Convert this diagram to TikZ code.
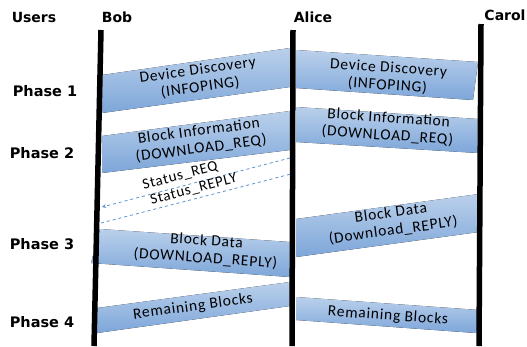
\documentclass[tikz,border=0pt]{standalone}
\usepackage{fontspec}
\setmainfont{Carlito}[LetterSpace=5]
\newfontfamily\headfont{DejaVu Sans}
\usepackage{tikz}
\usetikzlibrary{arrows.meta,positioning}

\definecolor{bandtop}{HTML}{BAD0EB}
\definecolor{bandbot}{HTML}{7DA6D9}
\definecolor{dashblue}{HTML}{5B93D0}

\tikzset{
  band/.style={top color=bandtop,bottom color=bandbot,draw=none},
  bandtext/.style={font=\fontsize{15.5}{17.5}\selectfont,align=center,inner sep=0pt},
  user/.style={font=\headfont\bfseries\fontsize{14}{16}\selectfont,inner sep=0pt},
  phase/.style={font=\headfont\bfseries\fontsize{14.5}{16}\selectfont,inner sep=0pt},
  lifeline/.style={line width=5.5pt,black},
  status/.style={dashed,dashblue,line width=0.8pt},
  statustext/.style={font=\fontsize{15}{16}\selectfont,inner sep=1pt,black}
}

\begin{document}
\begin{tikzpicture}[x=1pt,y=-1pt]
\useasboundingbox (0,0) rectangle (527,346);

% Headers
\node[user] (users) at (34,17) {Users};
\node[user] (bob) at (117,17) {Bob};
\node[user] (alice) at (313,17) {Alice};
\node[user] (carol) at (505,15) {Carol};

\node[phase] (ph1) at (45,91) {Phase 1};
\node[phase] (ph2) at (42,153) {Phase 2};
\node[phase] (ph3) at (42,244) {Phase 3};
\node[phase] (ph4) at (42,322) {Phase 4};

% Phase 1
\fill[band] (102,75) -- (290,48) -- (290,87) -- (102,113) -- cycle;
\fill[band] (296,50) -- (478,62) -- (473,100) -- (296,88) -- cycle;
\node[bandtext,rotate=8] (disc1) at (199,79) {Device Discovery\\(INFOPING)};
\node[bandtext,rotate=-4] (disc2) at (388,77) {Device Discovery\\(INFOPING)};

% Phase 2
\fill[band] (102,136) -- (290,111) -- (290,150) -- (102,173) -- cycle;
\fill[band] (296,107) -- (478,119) -- (478,153) -- (296,142) -- cycle;
\node[bandtext,rotate=7.5] (info1) at (200,140) {Block Information\\(DOWNLOAD\_REQ)};
\node[bandtext,rotate=-4] (info2) at (388,127) {Block Information\\(DOWNLOAD\_REQ)};

% Phase 3
\fill[band] (100,229) -- (290,242) -- (290,277) -- (91,263) -- cycle;
\fill[band] (296,219) -- (479,194) -- (479,232) -- (296,257) -- cycle;
\node[bandtext,rotate=-4] (data1) at (206,250) {Block Data\\(DOWNLOAD\_REPLY)};
\node[bandtext,rotate=7.8] (data2) at (392,222) {Block Data\\(Download\_REPLY)};

% Phase 4
\fill[band] (97,308) -- (290,282) -- (290,306) -- (97,333) -- cycle;
\fill[band] (296,297) -- (479,310) -- (476,333) -- (296,320) -- cycle;
\node[bandtext,rotate=7.7] (rem1) at (193,307) {Remaining Blocks};
\node[bandtext,rotate=-4] (rem2) at (388,316) {Remaining Blocks};

% Status exchange
\coordinate (reqA) at (290,158);
\coordinate (reqB) at (102,207);
\coordinate (repB) at (101,223);
\coordinate (repA) at (291,174);
\draw[status,-{Stealth[length=4pt,width=4pt]}] (reqA) -- node[statustext,above=3pt,sloped,pos=0.57] {Status\_REQ} (reqB);
\draw[status] (repB) -- node[statustext,above=2pt,sloped,pos=0.5] {Status\_REPLY} (repA);

% Lifelines
\coordinate (bobtop) at (101,30);
\coordinate (bobbot) at (94,346);
\coordinate (alicetop) at (293,30);
\coordinate (alicebot) at (292,346);
\coordinate (caroltop) at (481,24);
\coordinate (carolbot) at (479,346);
\draw[lifeline] (bobtop) -- (bobbot);
\draw[lifeline] (alicetop) -- (alicebot);
\draw[lifeline] (caroltop) -- (carolbot);
\end{tikzpicture}
\end{document}
